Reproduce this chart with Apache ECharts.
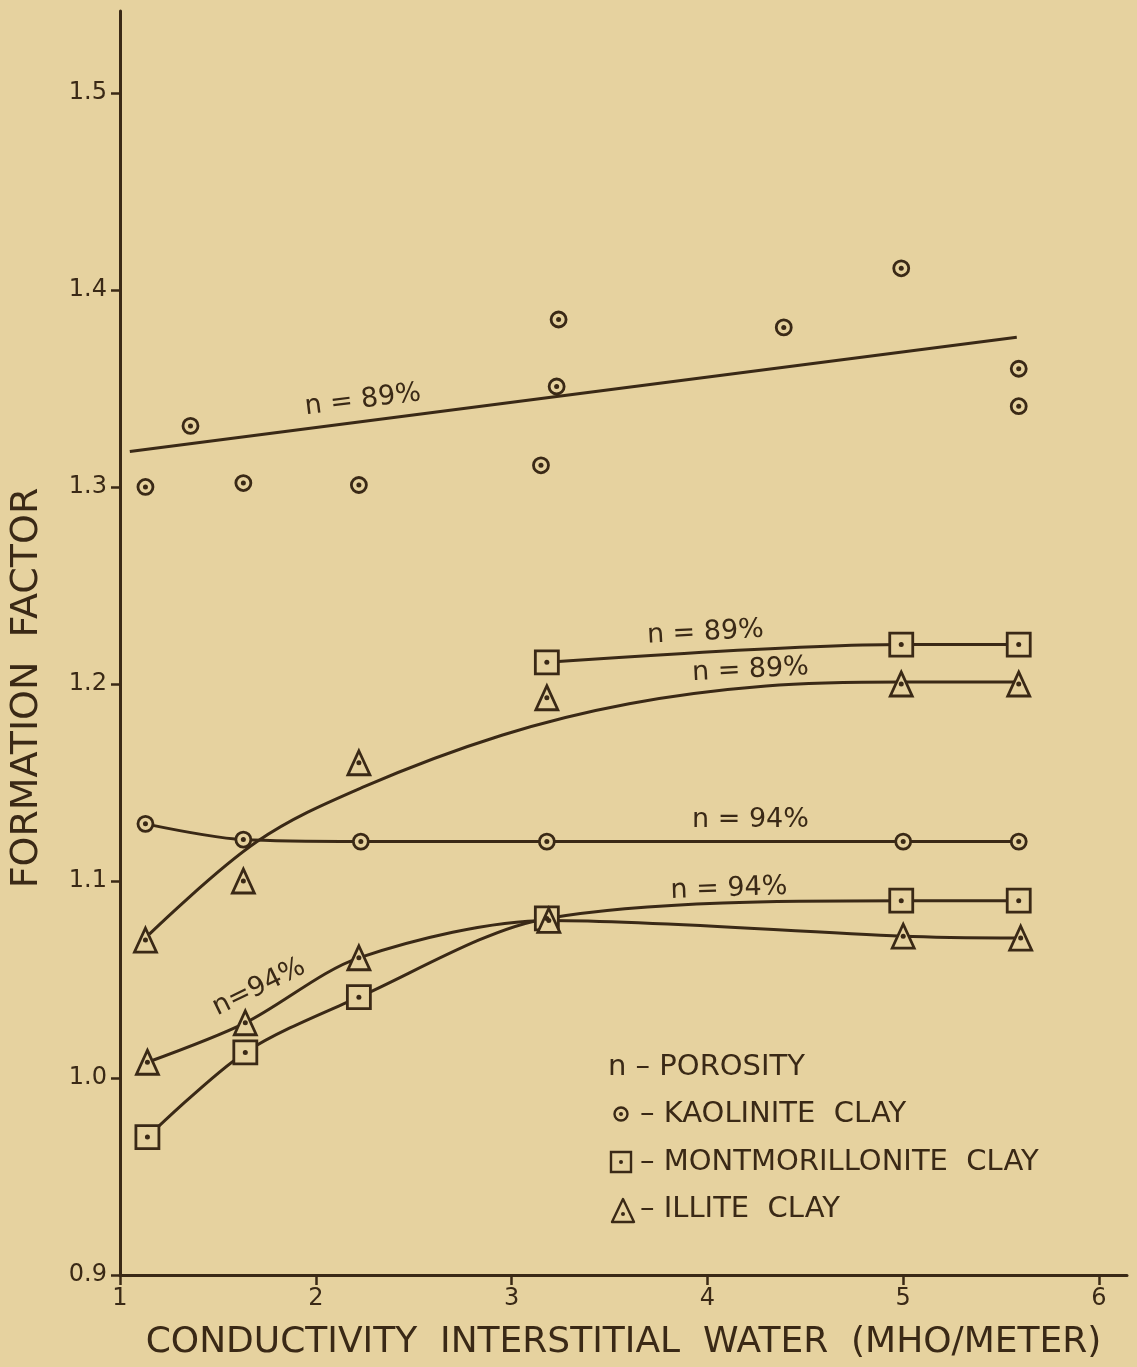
<!DOCTYPE html>
<html>
<head>
<meta charset="utf-8">
<title>Formation factor vs conductivity</title>
<script src="https://cdn.jsdelivr.net/npm/echarts@6/dist/echarts.min.js"></script>
<style>
  html, body { margin: 0; padding: 0; background: #e6d29f; }
  #chart { width: 1137px; height: 1367px; }
</style>
</head>
<body>
<div id="chart"></div>
<script>
// tick labels
var xTicks = [1, 2, 3, 4, 5, 6]
var yTicks = [0.9, 1.0, 1.1, 1.2, 1.3, 1.4, 1.5]

// kaolinite clay, n = 89% (scattered points + fitted straight line)
var kaolinite89 = [
  [1.13, 1.300], [1.36, 1.331], [1.63, 1.302], [2.22, 1.301], [3.15, 1.311],
  [3.23, 1.351], [3.24, 1.385], [4.39, 1.381], [4.99, 1.411], [5.59, 1.360], [5.59, 1.341]
]
var kaoliniteFit89 = [[1.05, 1.318], [5.58, 1.376]]

// montmorillonite clay, n = 89%
var montmorillonite89 = [[3.18, 1.211], [4.99, 1.220], [5.59, 1.220]]

// illite clay, n = 89% (points + fitted curve)
var illite89 = [[1.13, 1.070], [1.63, 1.100], [2.22, 1.160], [3.18, 1.193], [4.99, 1.200], [5.59, 1.200]]
var illiteFit89 = [
  [1.15, 1.073], [1.70, 1.120], [2.25, 1.148], [2.95, 1.174], [3.60, 1.190],
  [4.30, 1.199], [5.00, 1.201], [5.59, 1.201]
]

// kaolinite clay, n = 94%
var kaolinite94 = [[1.13, 1.129], [1.63, 1.121], [2.23, 1.120], [3.18, 1.120], [5.00, 1.120], [5.59, 1.120]]

// montmorillonite clay, n = 94%
var montmorillonite94 = [[1.14, 0.970], [1.64, 1.013], [2.22, 1.041], [3.18, 1.081], [4.99, 1.090], [5.59, 1.090]]

// illite clay, n = 94%
var illite94 = [[1.14, 1.008], [1.64, 1.028], [2.22, 1.061], [3.19, 1.080], [5.00, 1.072], [5.60, 1.071]]

// curve labels: [text, x, y]
var notes = [
  ['n = 89%', 2.24, 1.344],
  ['n = 89%', 3.99, 1.226],
  ['n = 89%', 4.22, 1.207],
  ['n = 94%', 4.22, 1.131],
  ['n = 94%', 4.11, 1.096],
  ['n=94%', 1.71, 1.046]
]
var noteAngles = [7, 3, 3, 0, 2, 26]

var ink = '#3a2916'
var paper = '#e6d29f'
var font = '"DejaVu Sans", sans-serif'

function curve (data, smooth) {
  return {
    type: 'line',
    data: data,
    smooth: smooth,
    showSymbol: false,
    silent: true,
    z: 2,
    lineStyle: { color: ink, width: 3 }
  }
}

function markers (data, symbol, size) {
  return [{
    type: 'scatter',
    data: data,
    symbol: symbol,
    symbolSize: size,
    z: 3,
    itemStyle: { color: paper, borderColor: ink, borderWidth: 2.8, opacity: 1 }
  }, {
    type: 'scatter',
    data: data,
    symbol: 'circle',
    symbolSize: 5,
    z: 4,
    itemStyle: { color: ink, opacity: 1 }
  }]
}

var series = [
  curve(kaoliniteFit89, false),
  curve(montmorillonite89, 0.3),
  curve(illiteFit89, 0.35),
  curve(kaolinite94, 0.3),
  curve(montmorillonite94, 0.3),
  curve(illite94, 0.3)
]
series = series
  .concat(markers(kaolinite89, 'circle', 15))
  .concat(markers(kaolinite94, 'circle', 15))
  .concat(markers(montmorillonite89, 'rect', 23))
  .concat(markers(montmorillonite94, 'rect', 23))
  .concat(markers(illite89, 'triangle', [22, 24]))
  .concat(markers(illite94, 'triangle', [22, 24]))

series.push({
  type: 'scatter',
  symbolSize: 0,
  silent: true,
  z: 5,
  itemStyle: { opacity: 1 },
  data: notes.map(function (n, i) {
    return {
      value: [n[1], n[2]],
      name: n[0],
      label: { rotate: noteAngles[i] }
    }
  }),
  label: {
    show: true,
    position: 'inside',
    formatter: function (p) { return p.name },
    color: ink,
    opacity: 1,
    fontFamily: font,
    fontSize: 27
  }
})

var legendRows = [
  { y: 1067, text: 'n – POROSITY', x: 608 },
  { y: 1114, text: '– KAOLINITE  CLAY', x: 640 },
  { y: 1162, text: '– MONTMORILLONITE  CLAY', x: 640 },
  { y: 1209, text: '– ILLITE  CLAY', x: 640 }
]

var graphic = legendRows.map(function (r) {
  return {
    type: 'text',
    x: r.x,
    y: r.y,
    style: {
      text: r.text,
      fill: ink,
      font: '29px ' + font,
      align: 'left',
      verticalAlign: 'middle',
      textAlign: 'left',
      textVerticalAlign: 'middle'
    }
  }
})
graphic.push(
  { type: 'circle', shape: { cx: 621, cy: 1114, r: 6.5 }, style: { fill: 'none', stroke: ink, lineWidth: 2.4 } },
  { type: 'circle', shape: { cx: 621, cy: 1114, r: 2 }, style: { fill: ink } },
  { type: 'rect', shape: { x: 611, y: 1152, width: 20, height: 20 }, style: { fill: 'none', stroke: ink, lineWidth: 2.4 } },
  { type: 'circle', shape: { cx: 621, cy: 1162, r: 2 }, style: { fill: ink } },
  { type: 'polygon', shape: { points: [[623, 1199], [634, 1222], [612, 1222]] }, style: { fill: 'none', stroke: ink, lineWidth: 2.4, lineJoin: 'round' } },
  { type: 'circle', shape: { cx: 623, cy: 1214, r: 2 }, style: { fill: ink } },
  {
    type: 'text',
    x: 27,
    y: 688,
    rotation: Math.PI / 2,
    style: {
      text: 'FORMATION  FACTOR',
      fill: ink,
      font: '38px ' + font,
      align: 'center',
      verticalAlign: 'middle',
      textAlign: 'center',
      textVerticalAlign: 'middle'
    }
  }
)

var chart = echarts.init(document.getElementById('chart'), null, { renderer: 'canvas' })
chart.setOption({
  backgroundColor: paper,
  animation: false,
  grid: { left: 120, right: 10, top: 11, bottom: 92, containLabel: false },
  xAxis: {
    type: 'value',
    min: 1,
    max: 6.143,
    interval: 1,
    name: 'CONDUCTIVITY  INTERSTITIAL  WATER  (MHO/METER)',
    nameLocation: 'middle',
    nameGap: 50,
    nameTextStyle: { color: ink, fontFamily: font, fontSize: 36 },
    splitLine: { show: false },
    axisLine: { lineStyle: { color: ink, width: 3 } },
    axisTick: { customValues: xTicks, length: 10, lineStyle: { color: ink, width: 2.5 } },
    axisLabel: {
      customValues: xTicks,
      color: ink,
      fontFamily: font,
      fontSize: 24,
      margin: 12
    }
  },
  yAxis: {
    type: 'value',
    min: 0.9,
    max: 1.5416,
    interval: 0.1,
    splitLine: { show: false },
    axisLine: { lineStyle: { color: ink, width: 3 } },
    axisTick: { customValues: yTicks, length: 9, lineStyle: { color: ink, width: 2.5 } },
    axisLabel: {
      customValues: yTicks,
      color: ink,
      fontFamily: font,
      fontSize: 24,
      margin: 13,
      formatter: function (v) { return v.toFixed(1) }
    }
  },
  graphic: graphic,
  series: series
})
</script>
</body>
</html>
